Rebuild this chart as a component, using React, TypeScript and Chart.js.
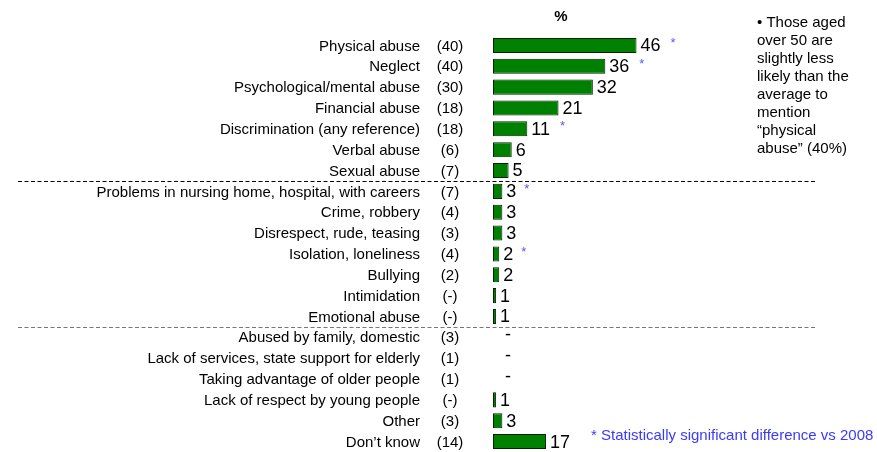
import React, { useEffect, useRef } from "react";
import { Chart, registerables } from "chart.js";

Chart.register(...registerables);

const categories = [
  "Physical abuse",
  "Neglect",
  "Psychological/mental abuse",
  "Financial abuse",
  "Discrimination (any reference)",
  "Verbal abuse",
  "Sexual abuse",
  "Problems in nursing home, hospital, with careers",
  "Crime, robbery",
  "Disrespect, rude, teasing",
  "Isolation, loneliness",
  "Bullying",
  "Intimidation",
  "Emotional abuse",
  "Abused by family, domestic",
  "Lack of services, state support for elderly",
  "Taking advantage of older people",
  "Lack of respect by young people",
  "Other",
  "Don\u2019t know",
];

const values: (number | null)[] = [46, 36, 32, 21, 11, 6, 5, 3, 3, 3, 2, 2, 1, 1, null, null, null, 1, 3, 17];

const previous = ["(40)", "(40)", "(30)", "(18)", "(18)", "(6)", "(7)", "(7)", "(4)", "(3)", "(4)", "(2)", "(-)", "(-)", "(3)", "(1)", "(1)", "(-)", "(3)", "(14)"];

const significant = [true, true, false, false, true, false, false, true, false, false, true, false, false, false, false, false, false, false, false, false];

// separators drawn after these category indices
const separatorsAfter = [6, 13];

const noteLines = [
  "\u2022 Those aged",
  "over 50 are",
  "slightly less",
  "likely than the",
  "average to",
  "mention",
  "\u201cphysical",
  "abuse\u201d (40%)",
];

const footnote = "* Statistically significant difference vs 2008";

const FONT = "'Liberation Sans', Arial, sans-serif";

const overlayPlugin = {
  id: "overlay",
  afterDatasetsDraw(chart: any) {
    const ctx = chart.ctx;
    const area = chart.chartArea;
    const yScale = chart.scales.y;
    const meta = chart.getDatasetMeta(0);
    ctx.save();

    // category labels and previous-year counts
    ctx.font = `15px ${FONT}`;
    ctx.fillStyle = "#000";
    ctx.textBaseline = "middle";
    categories.forEach((c, i) => {
      const y = yScale.getPixelForValue(i) + 1;
      ctx.textAlign = "right";
      ctx.fillText(c, area.left - 73, y);
      ctx.textAlign = "center";
      ctx.fillText(previous[i], area.left - 43, y);
    });

    // value labels & stars
    meta.data.forEach((bar: any, i: number) => {
      const v = values[i];
      const y = yScale.getPixelForValue(i);
      ctx.textBaseline = "middle";
      if (v === null) {
        ctx.font = `18px ${FONT}`;
        ctx.fillStyle = "#000";
        ctx.textAlign = "center";
        ctx.fillText("-", area.left + 15, y - 2);
        return;
      }
      ctx.font = `18px ${FONT}`;
      ctx.fillStyle = "#000";
      ctx.textAlign = "left";
      const txt = String(v);
      const x0 = bar.x + 4;
      ctx.fillText(txt, x0, y + 1);
      if (significant[i]) {
        const w = ctx.measureText(txt).width;
        ctx.font = `13px ${FONT}`;
        ctx.fillStyle = "#5555ff";
        ctx.fillText("*", x0 + w + (v >= 10 ? 10 : 8), y - 2);
      }
    });

    // dashed separators
    separatorsAfter.forEach((idx, k) => {
      const yy = Math.round((yScale.getPixelForValue(idx) + yScale.getPixelForValue(idx + 1)) / 2) + 0.5;
      ctx.beginPath();
      ctx.setLineDash([4, 2.5]);
      ctx.lineWidth = 1;
      ctx.strokeStyle = k === 0 ? "#000" : "#777";
      ctx.moveTo(18, yy);
      ctx.lineTo(817, yy);
      ctx.stroke();
    });
    ctx.setLineDash([]);

    // "%" header
    ctx.font = `bold 15px ${FONT}`;
    ctx.fillStyle = "#000";
    ctx.textAlign = "center";
    ctx.textBaseline = "alphabetic";
    ctx.fillText("%", area.left + 68, 21);

    // side note
    ctx.font = `15px ${FONT}`;
    ctx.textAlign = "left";
    noteLines.forEach((l, i) => {
      ctx.fillText(l, 757, 27 + i * 18.05);
    });

    // footnote
    ctx.font = `15px ${FONT}`;
    ctx.fillStyle = "#3a3aff";
    ctx.fillText(footnote, 591, 440);

    ctx.restore();
  },
};

export default function App() {
  const ref = useRef<HTMLCanvasElement | null>(null);
  useEffect(() => {
    if (!ref.current) return;
    const chart = new Chart(ref.current, {
      type: "bar",
      data: {
        labels: categories,
        datasets: [
          {
            data: values as any,
            backgroundColor: "#008000",
            borderColor: "#002200",
            borderWidth: 1,
            borderSkipped: false,
            barPercentage: 0.72,
            categoryPercentage: 1,
          },
        ],
      },
      options: {
        indexAxis: "y",
        animation: false,
        responsive: false,
        maintainAspectRatio: false,
        layout: { padding: { top: 35, bottom: 0, left: 493, right: 72 } },
        plugins: {
          legend: { display: false },
          tooltip: { enabled: false },
          title: { display: false },
        },
        scales: {
          x: {
            display: false,
            min: 0,
            max: 100,
          },
          y: {
            display: false,
          },
        },
      },
      plugins: [overlayPlugin],
    });
    return () => chart.destroy();
  }, []);
  return (
    <div style={{ position: "fixed", left: 0, top: 0, width: 877, height: 452, background: "#fff" }}>
      <canvas ref={ref} width={877} height={452} style={{ width: 877, height: 452 }} />
    </div>
  );
}
